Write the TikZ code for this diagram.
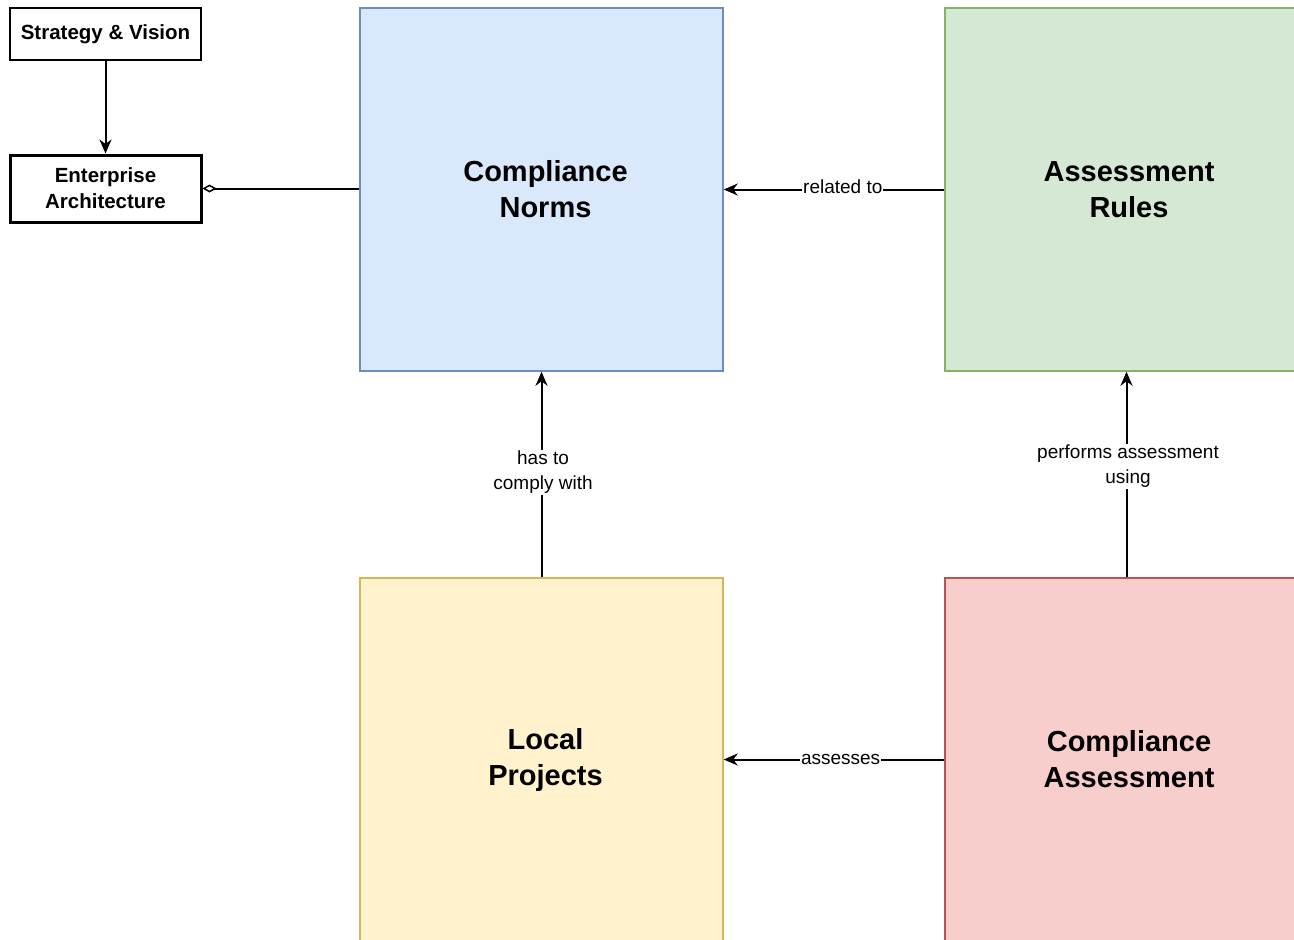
\documentclass[tikz,border=0pt]{standalone}
\usepackage{fontspec}
\setmainfont{Liberation Sans}
\usetikzlibrary{arrows.meta}
\definecolor{blueF}{HTML}{DAE8FC}
\definecolor{blueD}{HTML}{6C8EBF}
\definecolor{greenF}{HTML}{D5E8D4}
\definecolor{greenD}{HTML}{82B366}
\definecolor{yellowF}{HTML}{FFF2CC}
\definecolor{yellowD}{HTML}{D6B656}
\definecolor{redF}{HTML}{F8CECC}
\definecolor{redD}{HTML}{B85450}
\begin{document}
\begin{tikzpicture}[x=1pt,y=-1pt,
  big/.style={draw, line width=1.5pt, minimum width=363pt, minimum height=363pt, inner sep=0pt, align=center, font=\bfseries\fontsize{29}{36}\selectfont},
  small/.style={draw, line width=1.5pt, minimum width=191pt, align=center, inner sep=0pt, font=\bfseries\fontsize{20.5}{26}\selectfont},
  conn/.style={line width=2pt, -{Stealth[length=14pt,width=12pt,inset=4.5pt]}},
  lbl/.style={fill=white, inner sep=1pt, align=center, font=\fontsize{19}{25}\selectfont}]
\clip (0,0) rectangle (1294,940);
\fill[white] (0,0) rectangle (1294,940);
\node[small, minimum height=52pt] (sv) at (105.5,34) {Strategy \& Vision};
\node[small, line width=3pt, minimum height=67pt] (ea) at (105.5,188.5) {Enterprise\\Architecture};
\node[big, fill=blueF, draw=blueD] (cn) at (541.5,189.5) {\hspace*{8pt}Compliance\\\hspace*{8pt}Norms};
\node[big, fill=greenF, draw=greenD] (ar) at (1126.5,189.5) {\hspace*{5pt}Assessment\\\hspace*{5pt}Rules};
\node[big, fill=yellowF, draw=yellowD] (lp) at (541.5,759.5) {\hspace*{8pt}Local\\\hspace*{8pt}Projects};
\node[big, fill=redF, draw=redD] (ca) at (1126.5,759.5) {\hspace*{5pt}Compliance\\\hspace*{5pt}Assessment};
\draw[conn] (sv) -- (ea);
\draw[line width=2pt, {Diamond[open, length=14pt, width=8pt, line width=1.5pt]}-] (ea.east) -- (cn.west |- ea.east);
\draw[conn] (ar.west) -- node[lbl, pos=0.46, yshift=3pt] {related to} (cn.east);
\draw[conn] (lp.north) -- node[lbl, pos=0.51, xshift=1.5pt] {has to\\comply with} (cn.south);
\draw[conn] (ca.north) -- node[lbl, pos=0.54, xshift=1.5pt] {performs assessment\\using} (ar.south);
\draw[conn] (ca.west) -- node[lbl, pos=0.47] {assesses} (lp.east);
\end{tikzpicture}
\end{document}
